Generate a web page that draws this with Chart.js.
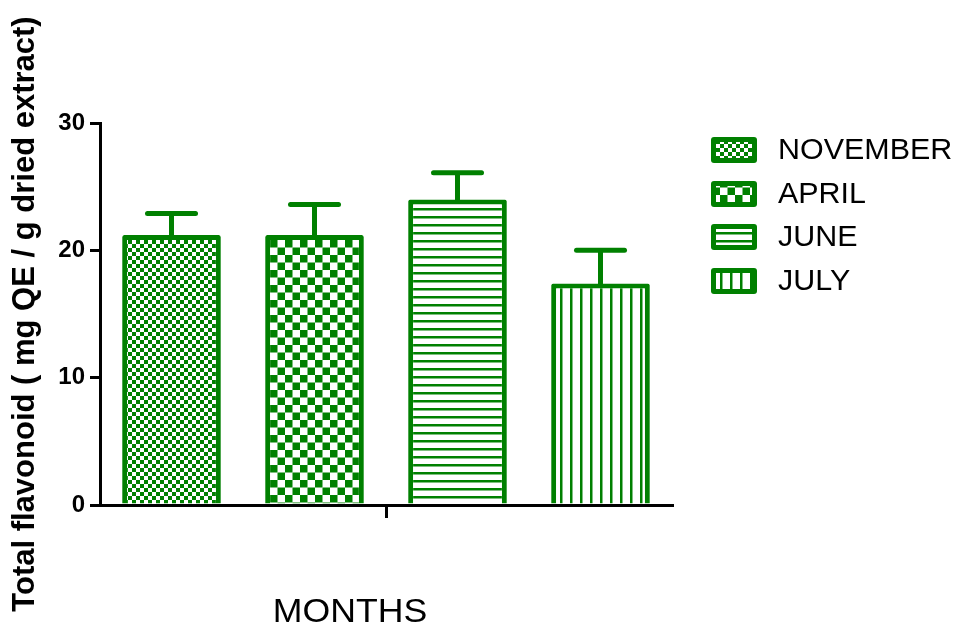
<!DOCTYPE html>
<html>
<head>
<meta charset="utf-8">
<script src="https://cdn.jsdelivr.net/npm/chart.js@4/dist/chart.umd.min.js"></script>
<style>
html,body{margin:0;padding:0;background:#fff;}
#wrap{width:955px;height:626px;}
</style>
</head>
<body>
<div id="wrap"><canvas id="c" width="955" height="626"></canvas></div>
<script>
const categories = [''];
const seriesLabels = ['NOVEMBER', 'APRIL', 'JUNE', 'JULY'];
const meanValues = [21.2, 21.2, 24.0, 17.4];
const errorValues = [1.7, 2.4, 2.1, 2.6];
const yTicks = [0, 10, 20, 30];
const xTitle = 'MONTHS';
const yTitle = 'Total flavonoid ( mg QE / g dried extract)';

const GREEN = '#008000';
const FONT = "'Liberation Sans', Arial, sans-serif";

function makePattern(kind) {
  const c = document.createElement('canvas');
  const g = c.getContext('2d');
  if (kind === 'fine') {
    c.width = 8; c.height = 8;
    g.fillStyle = '#fff'; g.fillRect(0, 0, 8, 8);
    g.fillStyle = GREEN; g.fillRect(0, 0, 4, 4); g.fillRect(4, 4, 4, 4);
  } else if (kind === 'coarse') {
    c.width = 15; c.height = 15;
    g.fillStyle = '#fff'; g.fillRect(0, 0, 15, 15);
    g.fillStyle = GREEN; g.fillRect(0, 0, 7.5, 7.5); g.fillRect(7.5, 7.5, 7.5, 7.5);
  } else if (kind === 'hlines') {
    c.width = 8; c.height = 8;
    g.fillStyle = '#fff'; g.fillRect(0, 0, 8, 8);
    g.fillStyle = GREEN; g.fillRect(0, 0, 8, 2.5);
  } else {
    c.width = 10; c.height = 10;
    g.fillStyle = '#fff'; g.fillRect(0, 0, 10, 10);
    g.fillStyle = GREEN; g.fillRect(0, 0, 2.5, 10);
  }
  const ctx = document.getElementById('c').getContext('2d');
  return ctx.createPattern(c, 'repeat');
}
const patterns = [makePattern('fine'), makePattern('coarse'), makePattern('hlines'), makePattern('vlines')];

const datasets = seriesLabels.map((lab, i) => ({
  label: lab,
  data: [meanValues[i]],
  backgroundColor: patterns[i],
  borderColor: GREEN,
  borderWidth: 5,
  borderSkipped: 'start',
  borderRadius: { topLeft: 2, topRight: 2, bottomLeft: 0, bottomRight: 0 },
  categoryPercentage: 1.0,
  barPercentage: 0.69
}));

const errorBarPlugin = {
  id: 'errorBars',
  beforeDatasetsDraw(chart) {
    const ctx = chart.ctx;
    const ys = chart.scales.y;
    ctx.save();
    ctx.strokeStyle = GREEN;
    ctx.lineWidth = 5;
    chart.data.datasets.forEach((ds, i) => {
      const meta = chart.getDatasetMeta(i);
      const bar = meta.data[0];
      const x = bar.x;
      const yTop = ys.getPixelForValue(meanValues[i]);
      const yCap = ys.getPixelForValue(meanValues[i] + errorValues[i]);
      ctx.lineCap = 'butt';
      ctx.beginPath(); ctx.moveTo(x, yTop + 3); ctx.lineTo(x, yCap); ctx.stroke();
      ctx.lineCap = 'round';
      ctx.beginPath(); ctx.moveTo(x - 24, yCap); ctx.lineTo(x + 24, yCap); ctx.stroke();
    });
    ctx.restore();
  }
};

const extrasPlugin = {
  id: 'extras',
  afterDraw(chart) {
    const ctx = chart.ctx;
    ctx.save();
    // x title
    ctx.fillStyle = '#000';
    ctx.font = '33px ' + FONT;
    ctx.textAlign = 'center';
    ctx.textBaseline = 'alphabetic';
    ctx.save();
    ctx.translate(350, 622);
    ctx.scale(1.08, 1);
    ctx.fillText(xTitle, 0, 0);
    ctx.restore();
    // legend
    const bx = 711, bw = 46, bh = 26;
    const rowTops = [137, 181, 224, 268];
    ctx.font = '29px ' + FONT;
    ctx.textAlign = 'left';
    ctx.textBaseline = 'middle';
    seriesLabels.forEach((lab, i) => {
      const y = rowTops[i];
      ctx.fillStyle = GREEN;
      ctx.beginPath();
      ctx.roundRect(bx, y, bw, bh, 3);
      ctx.fill();
      ctx.fillStyle = patterns[i];
      ctx.fillRect(bx + 5, y + 5, bw - 10, bh - 10);
      ctx.fillStyle = '#000';
      ctx.save();
      ctx.translate(778, y + bh / 2 + 1);
      ctx.scale(1.05, 1);
      ctx.fillText(lab, 0, 0);
      ctx.restore();
    });
    ctx.restore();
  }
};

new Chart(document.getElementById('c'), {
  type: 'bar',
  data: { labels: categories, datasets: datasets },
  plugins: [errorBarPlugin, extrasPlugin],
  options: {
    responsive: false,
    animation: false,
    devicePixelRatio: 1,
    layout: { padding: { left: 0, top: 123, right: 283, bottom: 0 } },
    plugins: { legend: { display: false }, tooltip: { enabled: false } },
    scales: {
      x: {
        offset: true,
        grid: { offset: false, drawOnChartArea: false, drawTicks: true, tickLength: 13, color: '#000', lineWidth: 3 },
        border: { display: true, color: '#000', width: 3 },
        ticks: { display: true, font: { size: 1 } },
        afterFit(scale) { scale.height = 121; }
      },
      y: {
        min: 0, max: 30,
        afterBuildTicks(scale) { scale.ticks = yTicks.map(v => ({ value: v })); },
        grid: { drawOnChartArea: false, drawTicks: true, tickLength: 10, color: '#000', lineWidth: 3 },
        border: { display: true, color: '#000', width: 3 },
        ticks: { color: '#000', padding: 5, font: { family: FONT, size: 24, weight: 'bold' } },
        title: {
          display: true, text: yTitle, color: '#000',
          font: { family: FONT, size: 31, weight: 'bold' },
          padding: { top: 7, bottom: 0 }
        },
        afterFit(scale) { scale.width = 100; }
      }
    }
  }
});
</script>
</body>
</html>
